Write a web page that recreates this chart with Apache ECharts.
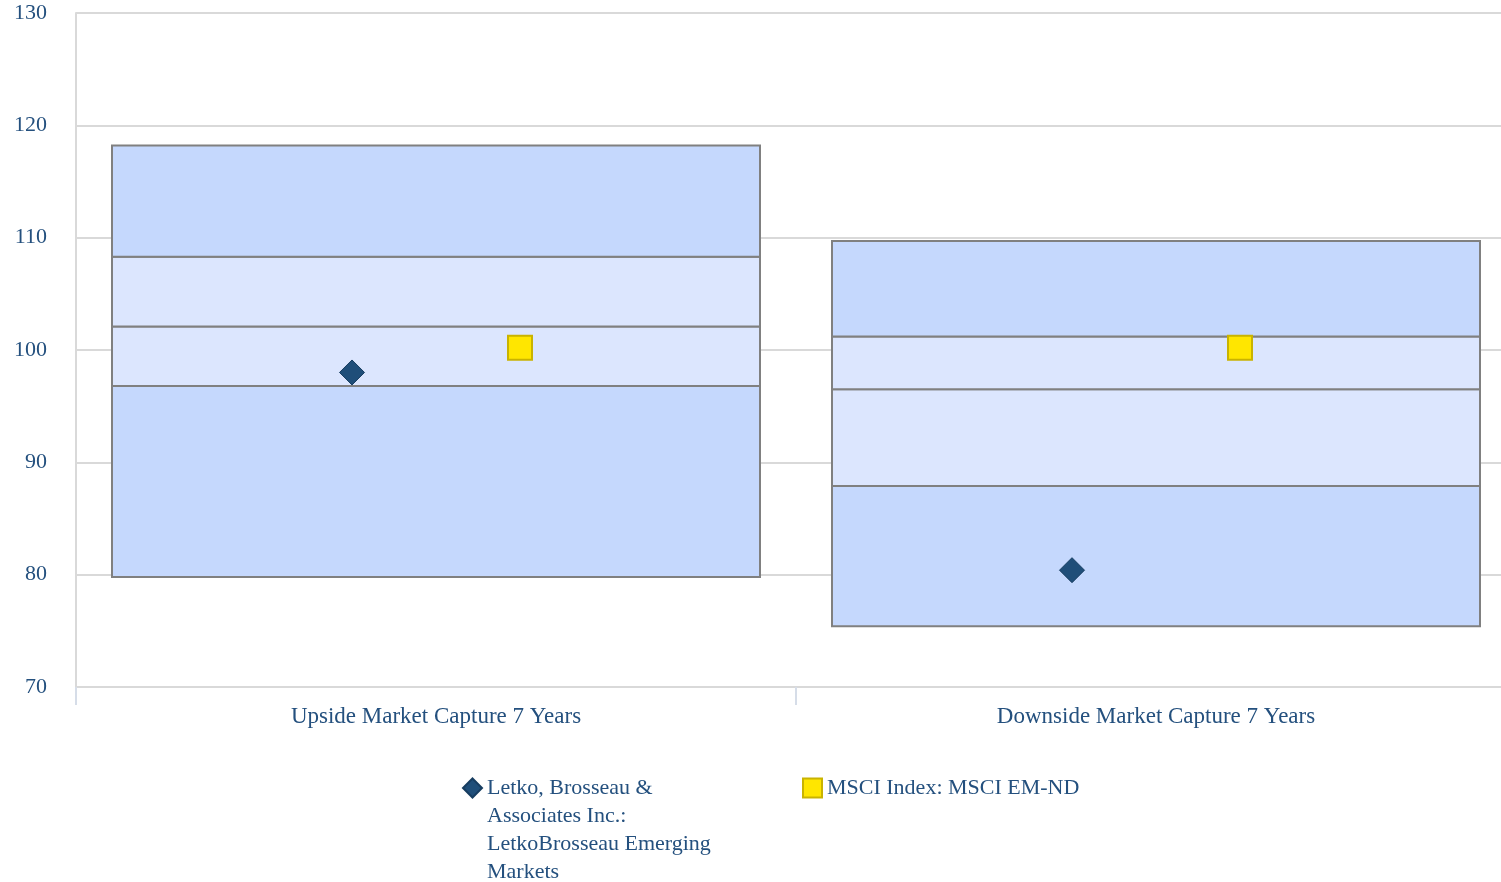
<!DOCTYPE html>
<html>
<head>
<meta charset="utf-8">
<script src="https://cdn.jsdelivr.net/npm/echarts@6/dist/echarts.min.js"></script>
<style>
    html, body { margin: 0; padding: 0; background: #fff; }
    #main { width: 1501px; height: 882px; }
</style>
</head>
<body>
<div id="main"></div>
<script>
// categories
var categories = ['Upside Market Capture 7 Years', 'Downside Market Capture 7 Years'];
// box bands: [bottom, 25th, median, 75th, top]
var boxLow = [79.8, 75.4];
var boxQ1 = [96.8, 87.9];
var boxMedian = [102.1, 96.5];
var boxQ3 = [108.3, 101.2];
var boxHigh = [118.2, 109.7];
// markers
var managerName = 'Letko, Brosseau & Associates Inc.: LetkoBrosseau Emerging Markets';
var managerValues = [98.0, 80.4];
var indexName = 'MSCI Index: MSCI EM-ND';
var indexValues = [100.2, 100.2];
// y ticks
var yMin = 70, yMax = 130, yStep = 10;

var textColor = '#24507e';
var fontFamily = '"Liberation Serif", "DejaVu Serif", serif';

var boxData = categories.map(function (c, i) {
    return [i, boxLow[i], boxQ1[i], boxMedian[i], boxQ3[i], boxHigh[i]];
});

var chart = echarts.init(document.getElementById('main'));

chart.setOption({
    animation: false,
    textStyle: { fontFamily: fontFamily },
    grid: { left: 76, top: 13, width: 1440, bottom: 195, containLabel: false, outerBoundsMode: 'none' },
    xAxis: {
        type: 'category',
        data: categories,
        axisLine: { show: true, lineStyle: { color: '#d9d9d9', width: 2 } },
        axisTick: { show: true, length: 18, lineStyle: { color: '#d6dde8', width: 2 } },
        axisLabel: { color: textColor, fontSize: 23, margin: 18, fontFamily: fontFamily },
        splitLine: { show: false }
    },
    yAxis: {
        type: 'value',
        min: yMin,
        max: yMax,
        interval: yStep,
        axisLine: { show: true, lineStyle: { color: '#d9d9d9', width: 2 } },
        axisTick: { show: false },
        axisLabel: { color: textColor, fontSize: 22, margin: 29, fontFamily: fontFamily, padding: [6, 0, 0, 0] },
        splitLine: { show: true, lineStyle: { color: '#d9d9d9', width: 2 } }
    },
    legend: [{
        data: [{ name: managerName, icon: 'diamond' }],
        left: 457,
        top: 685,
        itemWidth: 19,
        itemHeight: 19,
        selectedMode: false,
        // leading blank lines keep the first text line level with the icon
        formatter: function (name) { return '\n\n\n' + name; },
        textStyle: {
            color: textColor, fontSize: 22, fontFamily: fontFamily,
            width: 245, overflow: 'break', lineHeight: 28
        }
    }, {
        data: [{ name: indexName, icon: 'rect' }],
        left: 797,
        top: 769,
        itemWidth: 19,
        itemHeight: 19,
        selectedMode: false,
        textStyle: { color: textColor, fontSize: 22, fontFamily: fontFamily, lineHeight: 28 }
    }],
    series: [{
        type: 'custom',
        name: 'Peer range',
        data: boxData,
        z: 2,
        encode: { x: 0, y: [1, 2, 3, 4, 5] },
        renderItem: function (params, api) {
            var x = api.value(0);
            var w = api.size([1, 0])[0] * 0.9;
            var cx = api.coord([x, yMin])[0];
            var ys = [1, 2, 3, 4, 5].map(function (k) { return api.coord([x, api.value(k)])[1]; });
            var fills = ['#c5d8fd', '#dce6fe', '#dce6fe', '#c5d8fd'];
            var children = [];
            for (var k = 0; k < 4; k++) {
                children.push({
                    type: 'rect',
                    shape: { x: cx - w / 2, y: ys[k + 1], width: w, height: ys[k] - ys[k + 1] },
                    style: { fill: fills[k], stroke: '#808080', lineWidth: 2 }
                });
            }
            return { type: 'group', children: children };
        }
    }, {
        type: 'scatter',
        name: managerName,
        data: managerValues,
        symbol: 'diamond',
        symbolSize: 25,
        symbolOffset: [-84, 0],
        z: 5,
        itemStyle: { color: '#1f4e79', borderColor: '#173d60', borderWidth: 1, opacity: 1 }
    }, {
        type: 'scatter',
        name: indexName,
        data: indexValues,
        symbol: 'rect',
        symbolSize: 24,
        symbolOffset: [84, 0],
        z: 5,
        itemStyle: { color: '#ffe600', borderColor: '#c9b300', borderWidth: 2, opacity: 1 }
    }]
});
</script>
</body>
</html>
